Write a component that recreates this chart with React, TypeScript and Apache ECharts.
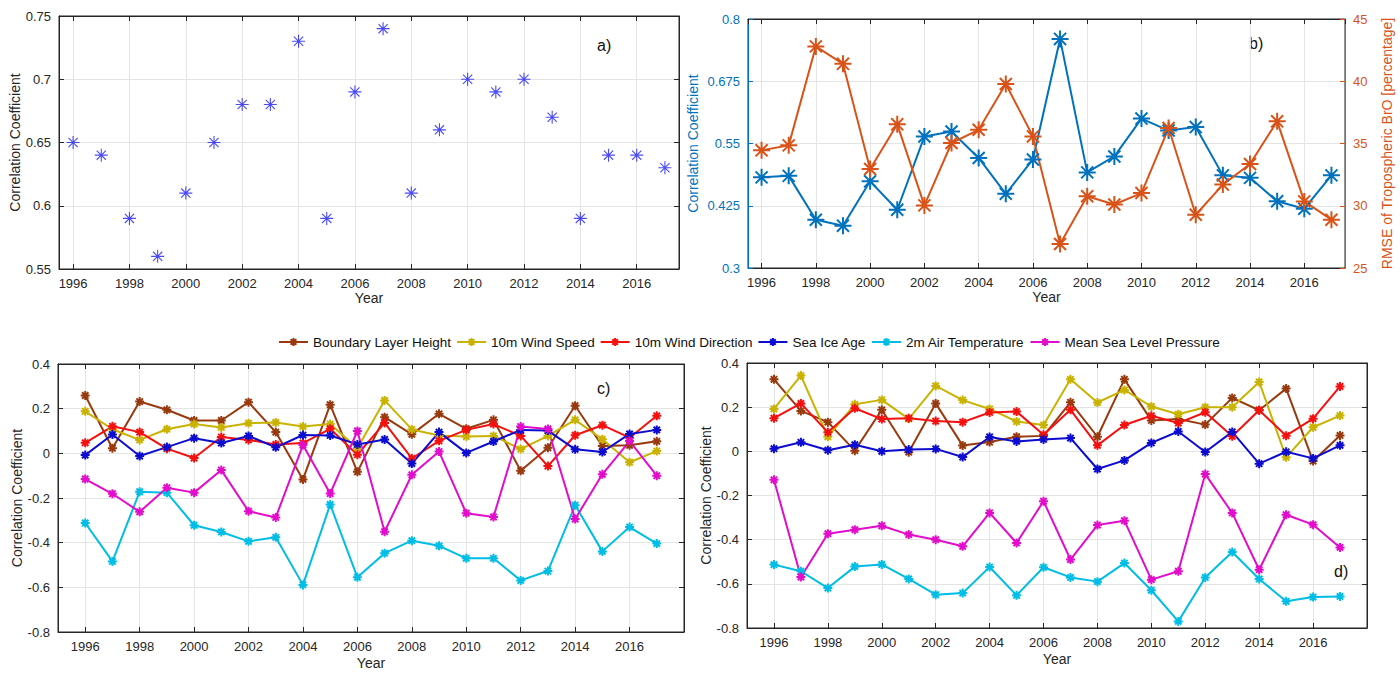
import React, { useEffect, useRef } from 'react';
import * as echarts from 'echarts';

// ---------------- data ----------------
const years = [1996, 1997, 1998, 1999, 2000, 2001, 2002, 2003, 2004, 2005, 2006, 2007, 2008, 2009, 2010, 2011, 2012, 2013, 2014, 2015, 2016, 2017];

// panel a
const corrA = [0.65, 0.64, 0.59, 0.56, 0.61, 0.65, 0.68, 0.68, 0.73, 0.59, 0.69, 0.74, 0.61, 0.66, 0.70, 0.69, 0.70, 0.67, 0.59, 0.64, 0.64, 0.63];

// panel b
const corrB = [0.482, 0.485, 0.397, 0.385, 0.474, 0.417, 0.564, 0.574, 0.521, 0.449, 0.518, 0.760, 0.492, 0.524, 0.600, 0.576, 0.583, 0.486, 0.481, 0.434, 0.419, 0.486];
const rmseB = [34.45, 34.85, 42.8, 41.4, 32.95, 36.54, 30.03, 35.04, 36.1, 39.78, 35.57, 26.93, 30.76, 30.1, 31.02, 36.24, 29.28, 31.7, 33.35, 36.78, 30.35, 28.88];

// panel c
const blhC = [0.259, 0.023, 0.232, 0.195, 0.147, 0.147, 0.229, 0.095, -0.117, 0.218, -0.083, 0.162, 0.085, 0.177, 0.11, 0.15, -0.078, 0.025, 0.213, 0.033, 0.036, 0.054];
const wsC = [0.188, 0.108, 0.06, 0.108, 0.131, 0.116, 0.135, 0.138, 0.12, 0.131, 0.023, 0.237, 0.107, 0.08, 0.075, 0.078, 0.019, 0.078, 0.15, 0.063, -0.04, 0.01];
const wdC = [0.047, 0.121, 0.095, 0.021, -0.021, 0.073, 0.06, 0.04, 0.046, 0.11, -0.006, 0.136, -0.023, 0.056, 0.105, 0.131, 0.078, -0.057, 0.081, 0.126, 0.07, 0.168];
const siaC = [-0.008, 0.084, -0.012, 0.028, 0.068, 0.046, 0.078, 0.027, 0.082, 0.08, 0.04, 0.062, -0.046, 0.095, 0.002, 0.053, 0.105, 0.102, 0.018, 0.006, 0.087, 0.105];
const t2mC = [-0.312, -0.484, -0.172, -0.176, -0.322, -0.352, -0.394, -0.376, -0.589, -0.229, -0.555, -0.447, -0.391, -0.414, -0.47, -0.47, -0.569, -0.527, -0.232, -0.439, -0.33, -0.404];
const mslpC = [-0.115, -0.181, -0.262, -0.154, -0.176, -0.075, -0.259, -0.287, 0.037, -0.18, 0.1, -0.351, -0.096, 0.008, -0.268, -0.285, 0.12, 0.109, -0.294, -0.094, 0.055, -0.1];

// panel d
const blhD = [0.326, 0.183, 0.132, 0.003, 0.188, -0.004, 0.217, 0.026, 0.042, 0.066, 0.07, 0.222, 0.066, 0.326, 0.14, 0.146, 0.121, 0.242, 0.186, 0.284, -0.044, 0.072];
const wsD = [0.192, 0.343, 0.066, 0.213, 0.233, 0.147, 0.296, 0.232, 0.192, 0.135, 0.119, 0.326, 0.221, 0.278, 0.203, 0.168, 0.2, 0.2, 0.314, -0.027, 0.109, 0.162];
const wdD = [0.15, 0.217, 0.086, 0.195, 0.146, 0.15, 0.137, 0.132, 0.176, 0.18, 0.075, 0.188, 0.027, 0.119, 0.161, 0.128, 0.177, 0.068, 0.186, 0.071, 0.148, 0.294];
const siaD = [0.012, 0.041, 0.005, 0.03, 0, 0.008, 0.011, -0.026, 0.065, 0.045, 0.054, 0.06, -0.08, -0.041, 0.038, 0.09, -0.003, 0.088, -0.056, -0.002, -0.032, 0.027];
const t2mD = [-0.513, -0.543, -0.619, -0.522, -0.512, -0.578, -0.649, -0.642, -0.524, -0.652, -0.525, -0.571, -0.59, -0.506, -0.629, -0.77, -0.571, -0.456, -0.578, -0.679, -0.66, -0.657];
const mslpD = [-0.129, -0.569, -0.373, -0.355, -0.337, -0.377, -0.4, -0.43, -0.279, -0.415, -0.226, -0.49, -0.334, -0.314, -0.581, -0.543, -0.103, -0.279, -0.536, -0.287, -0.332, -0.435];

const varNames = ['Boundary Layer Height', '10m Wind Speed', '10m Wind Direction', 'Sea Ice Age', '2m Air Temperature', 'Mean Sea Level Pressure'];
const panelLabels = ['a)', 'b)', 'c)', 'd)'];

// ---------------- styles ----------------
const varColors = ['#983a0e', '#c9b300', '#f51010', '#0c0cd0', '#00bde6', '#e20ccb'];
const FONT = '"Liberation Sans", Arial, Helvetica, sans-serif';
const AX = '#262626';
const GRIDC = '#e4e4e4';
const ASTERISK = 'path://M5,0L5,10M0,5L10,5M1.46,1.46L8.54,8.54M1.46,8.54L8.54,1.46';

const fmt = (v: number) => String(Math.round(v * 1000) / 1000);
const fmtYear = (v: number) => String(Math.round(v));

function bottomX(gridIndex: number, min: number, max: number, nameGap: number) {
  return {
    type: 'value', gridIndex, min, max, minInterval: 2, maxInterval: 2, position: 'bottom',
    name: 'Year', nameLocation: 'middle', nameGap,
    nameTextStyle: { color: AX, fontSize: 14, fontFamily: FONT },
    axisLine: { show: true, onZero: false, lineStyle: { color: AX, width: 1 } },
    axisTick: { show: true, inside: true, length: 5, lineStyle: { color: AX } },
    axisLabel: { color: AX, fontSize: 13, fontFamily: FONT, margin: 8, showMinLabel: false, showMaxLabel: false, formatter: fmtYear },
    splitLine: { show: true, lineStyle: { color: GRIDC, width: 1 } },
  };
}
function topX(gridIndex: number, min: number, max: number) {
  return {
    type: 'value', gridIndex, min, max, minInterval: 2, maxInterval: 2, position: 'top',
    axisLine: { show: true, onZero: false, lineStyle: { color: AX, width: 1 } },
    axisTick: { show: true, inside: true, length: 5, lineStyle: { color: AX } },
    axisLabel: { show: false },
    splitLine: { show: false },
  };
}
function leftY(gridIndex: number, min: number, max: number, interval: number, nameGap: number, color = AX, name = 'Correlation Coefficient') {
  return {
    type: 'value', gridIndex, min, max, interval, position: 'left',
    name, nameLocation: 'middle', nameGap, nameRotate: 90,
    nameTextStyle: { color, fontSize: 14, fontFamily: FONT },
    axisLine: { show: true, onZero: false, lineStyle: { color, width: 1 } },
    axisTick: { show: true, inside: true, length: 5, lineStyle: { color } },
    axisLabel: { color, fontSize: 13, fontFamily: FONT, margin: 8, formatter: fmt },
    splitLine: { show: true, lineStyle: { color: GRIDC, width: 1 } },
  };
}
function mirrorY(gridIndex: number, min: number, max: number, interval: number) {
  return {
    type: 'value', gridIndex, min, max, interval, position: 'right',
    axisLine: { show: true, onZero: false, lineStyle: { color: AX, width: 1 } },
    axisTick: { show: true, inside: true, length: 5, lineStyle: { color: AX } },
    axisLabel: { show: false },
    splitLine: { show: false },
  };
}

const pairs = (vals: number[]) => years.map((y, i) => [y, vals[i]]);

function lineSeries(name: string, color: string, vals: number[], xi: number, yi: number, size: number, width: number) {
  return {
    type: 'line', name, xAxisIndex: xi, yAxisIndex: yi, data: pairs(vals),
    symbol: ASTERISK, symbolSize: size, showAllSymbol: true,
    lineStyle: { color, width },
    itemStyle: { color, borderColor: color, borderWidth: width },
    emphasis: { disabled: true },
  };
}

const cVals = [blhC, wsC, wdC, siaC, t2mC, mslpC];
const dVals = [blhD, wsD, wdD, siaD, t2mD, mslpD];

const option: any = {
  animation: false,
  backgroundColor: '#ffffff',
  textStyle: { fontFamily: FONT },
  grid: [
    { left: 59, top: 16, width: 620, height: 253, show: true, borderColor: AX, borderWidth: 1 },
    { left: 748, top: 19, width: 597, height: 249, show: true, borderColor: AX, borderWidth: 1 },
    { left: 58, top: 364, width: 626, height: 268, show: true, borderColor: AX, borderWidth: 1 },
    { left: 747, top: 363, width: 620, height: 265, show: true, borderColor: AX, borderWidth: 1 },
  ],
  xAxis: [
    bottomX(0, 1995.5, 2017.5, 22),
    bottomX(1, 1995.5, 2017.5, 22),
    bottomX(2, 1995, 2018, 24),
    bottomX(3, 1995, 2018, 24),
    topX(0, 1995.5, 2017.5),
    topX(1, 1995.5, 2017.5),
    topX(2, 1995, 2018),
    topX(3, 1995, 2018),
  ],
  yAxis: [
    leftY(0, 0.55, 0.75, 0.05, 34),
    leftY(1, 0.3, 0.8, 0.125, 48, '#0072BD'),
    leftY(2, -0.8, 0.4, 0.2, 31),
    leftY(3, -0.8, 0.4, 0.2, 30),
    {
      type: 'value', gridIndex: 1, min: 25, max: 45, interval: 5, position: 'right',
      name: 'RMSE of Tropospheric BrO [percentage]', nameLocation: 'middle', nameGap: 35, nameRotate: 90,
      nameTextStyle: { color: '#D95319', fontSize: 14, fontFamily: FONT },
      axisLine: { show: true, onZero: false, lineStyle: { color: '#D95319', width: 1 } },
      axisTick: { show: true, inside: true, length: 5, lineStyle: { color: '#D95319' } },
      axisLabel: { color: '#D95319', fontSize: 13, fontFamily: FONT, margin: 8, formatter: fmt },
      splitLine: { show: false },
    },
    mirrorY(0, 0.55, 0.75, 0.05),
    mirrorY(2, -0.8, 0.4, 0.2),
    mirrorY(3, -0.8, 0.4, 0.2),
  ],
  legend: {
    data: varNames,
    left: 273, top: 330,
    itemWidth: 29, itemHeight: 10, itemGap: 5,
    textStyle: { color: '#111', fontSize: 13.5, fontFamily: FONT },
    selectedMode: false,
  },
  graphic: [
    { type: 'text', left: 597, top: 37, style: { text: panelLabels[0], fill: '#111', font: '16px ' + FONT } },
    { type: 'text', left: 1249, top: 35, style: { text: panelLabels[1], fill: '#111', font: '16px ' + FONT } },
    { type: 'text', left: 597, top: 380, style: { text: panelLabels[2], fill: '#111', font: '16px ' + FONT } },
    { type: 'text', left: 1334, top: 563, style: { text: panelLabels[3], fill: '#111', font: '16px ' + FONT } },
  ],
  series: [
    {
      type: 'scatter', name: 'corrA', xAxisIndex: 0, yAxisIndex: 0, data: pairs(corrA),
      symbol: ASTERISK, symbolSize: 13,
      itemStyle: { color: '#1f1ff5', borderColor: '#1f1ff5', borderWidth: 1.1 },
      emphasis: { disabled: true },
    },
    lineSeries('Correlation Coefficient', '#0072BD', corrB, 1, 1, 17, 2),
    lineSeries('RMSE', '#D95319', rmseB, 1, 4, 17, 2),
    ...varNames.map((n, i) => lineSeries(n, varColors[i], cVals[i], 2, 2, 9, 2)),
    ...varNames.map((n, i) => lineSeries(n, varColors[i], dVals[i], 3, 3, 9, 2)),
  ],
};

export default function App() {
  const ref = useRef<HTMLDivElement>(null);
  useEffect(() => {
    const chart = echarts.init(ref.current!, null, { renderer: 'svg' });
    chart.setOption(option);
    return () => chart.dispose();
  }, []);
  return (
    <div
      ref={ref}
      style={{ position: 'fixed', left: 0, top: 0, width: 1400, height: 674, background: '#fff' }}
    />
  );
}
